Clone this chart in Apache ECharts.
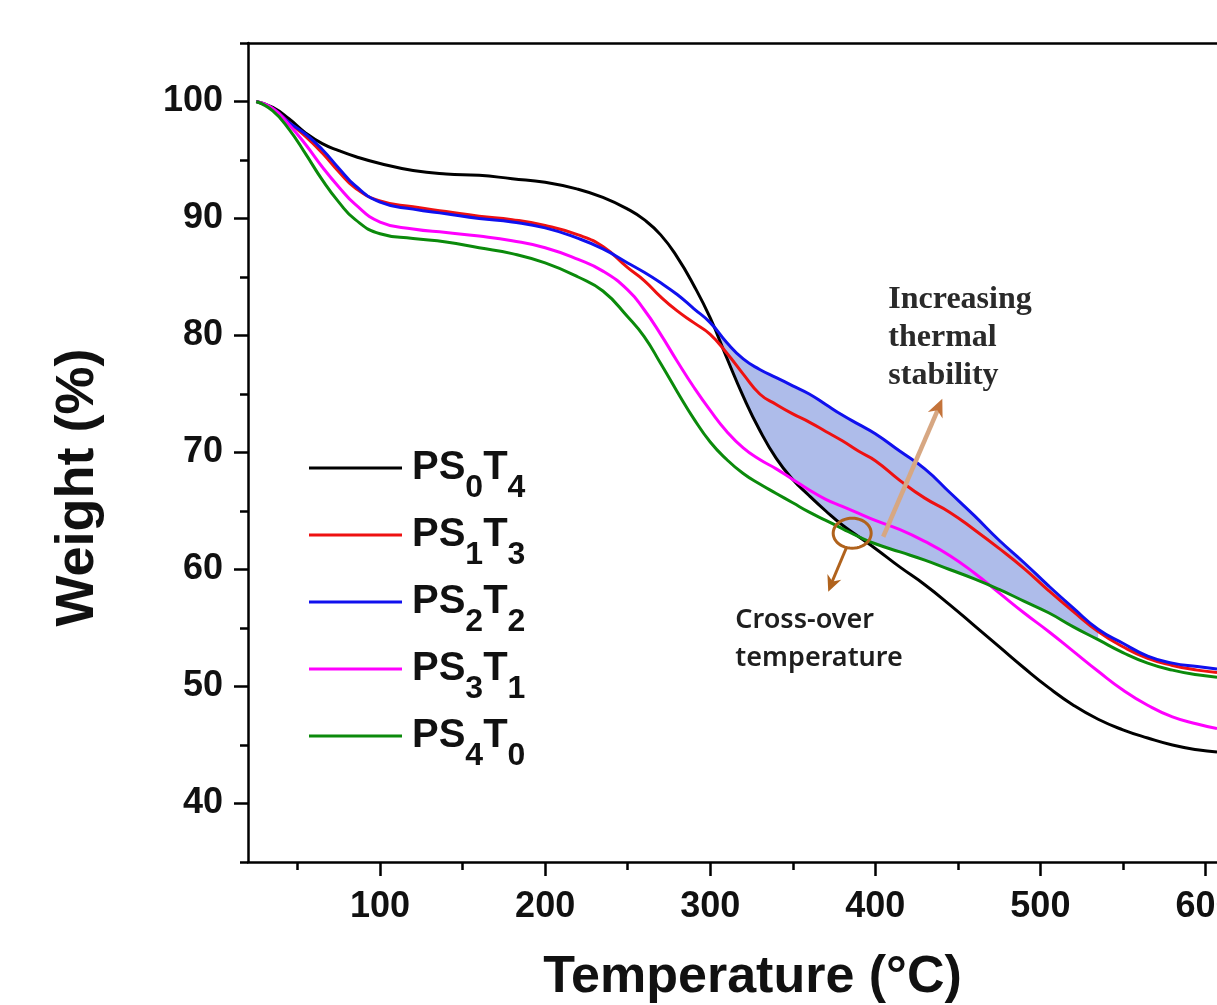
<!DOCTYPE html>
<html>
<head>
<meta charset="utf-8">
<script src="https://cdn.jsdelivr.net/npm/echarts@6/dist/echarts.min.js"></script>
<style>
  html, body { margin: 0; padding: 0; background: #fff; }
  #chart { width: 1217px; height: 1005px; }
</style>
</head>
<body>
<div id="chart"></div>
<script>
// ---------------- data ----------------
const temps = [25, 35, 45, 55, 65, 75, 85, 100, 120, 140, 160, 180, 200, 220, 235, 250, 260, 270, 280, 290,
               300, 310, 320, 330, 340, 350, 360, 370, 380, 390, 400, 415, 430, 445, 460, 475, 490, 505, 520,
               535, 550, 565, 580, 595, 607];

const ps0t4 = [100, 99.5, 98.5, 97.3, 96.4, 95.8, 95.3, 94.7, 94.1, 93.8, 93.7, 93.4, 93.1, 92.5, 91.8, 90.8, 89.9, 88.6, 86.7, 84.3,
               81.5, 78.1, 74.8, 71.9, 69.5, 67.7, 66.3, 65.0, 63.8, 62.8, 61.8, 60.2, 58.7, 57.0, 55.2, 53.4, 51.6, 49.9, 48.4,
               47.2, 46.3, 45.6, 45.0, 44.6, 44.4];
const ps1t3 = [100, 99.4, 98.2, 97.0, 95.6, 94.0, 92.6, 91.5, 91.0, 90.6, 90.2, 89.9, 89.4, 88.6, 87.6, 85.8, 84.7, 83.3, 82.1, 81.1,
               80.1, 78.5, 76.7, 75.0, 74.1, 73.3, 72.6, 71.8, 71.0, 70.1, 69.3, 67.6, 66.1, 64.9, 63.4, 61.8, 60.1, 58.2, 56.4,
               54.7, 53.4, 52.4, 51.8, 51.4, 51.2];
const ps2t2 = [100, 99.4, 98.2, 97.2, 95.9, 94.3, 92.8, 91.4, 90.8, 90.4, 90.0, 89.7, 89.2, 88.3, 87.4, 86.2, 85.4, 84.5, 83.5, 82.3,
               81.1, 79.4, 78.0, 77.1, 76.4, 75.7, 75.0, 74.1, 73.2, 72.4, 71.6, 70.1, 68.6, 66.6, 64.6, 62.5, 60.6, 58.6, 56.7,
               54.9, 53.7, 52.6, 52.0, 51.7, 51.5];
const ps3t1 = [100, 99.4, 98.0, 96.3, 94.4, 92.7, 91.2, 89.7, 89.1, 88.8, 88.5, 88.1, 87.5, 86.5, 85.5, 83.9, 82.2, 80.1, 77.8, 75.6,
               73.6, 71.8, 70.4, 69.4, 68.6, 67.7, 66.8, 66.0, 65.4, 64.8, 64.2, 63.4, 62.4, 61.2, 59.7, 58.0, 56.3, 54.7, 53.0,
               51.3, 49.7, 48.4, 47.4, 46.8, 46.4];
const ps4t0 = [100, 99.2, 97.6, 95.5, 93.3, 91.4, 89.9, 88.7, 88.3, 88.0, 87.5, 87.0, 86.2, 85.0, 83.8, 81.6, 79.9, 77.6, 75.2, 72.9,
               70.9, 69.4, 68.2, 67.3, 66.5, 65.7, 64.9, 64.2, 63.5, 62.8, 62.2, 61.5, 60.8, 60.0, 59.2, 58.3, 57.3, 56.3, 55.1,
               54.0, 52.9, 52.0, 51.4, 51.0, 50.8];

const seriesNames = ['PS0T4', 'PS1T3', 'PS2T2', 'PS3T1', 'PS4T0'];
const seriesColors = ['#000000', '#ee1111', '#1010ee', '#ff00ff', '#0b8a0b'];
const seriesValues = [ps0t4, ps1t3, ps2t2, ps3t1, ps4t0];

const xTickLabels = [100, 200, 300, 400, 500, 600];
const xMinorTicks = [50, 150, 250, 350, 450, 550];
const yTickLabels = [40, 50, 60, 70, 80, 90, 100];
const yMinorTicks = [35, 45, 55, 65, 75, 85, 95, 105];

// shaded region: between PS2T2 (top) and the upper of PS0T4 / PS4T0 (bottom)
const fillFrom = 300, fillTo = 535;

// annotations, anchored in data coordinates
const crossOver = [386, 63.1];
const crossArrowTip = [371.5, 58.1];
const stabArrowFrom = [404.8, 62.8];
const stabArrowTo = [440.6, 74.6];
const stabText = ['Increasing', 'thermal', 'stability'];
const stabTextAt = [407.9, 84.7];
const crossText = ['Cross-over', 'temperature'];
const crossTextAt = [315.2, 57.3];

// ---------------- chart ----------------
const chart = echarts.init(document.getElementById('chart'), null, { renderer: 'canvas' });
const SMOOTH = 0.5;

const lineSeries = seriesNames.map((n, i) => ({
  name: n,
  type: 'line',
  data: temps.map((t, k) => [t, seriesValues[i][k]]),
  smooth: SMOOTH,
  showSymbol: false,
  symbol: 'none',
  lineStyle: { color: seriesColors[i], width: 3 },
  itemStyle: { color: seriesColors[i] },
  z: 3
}));

// upper fill edge: PS2T2 inside the range; lower (white) cover: one point wider on each side
const kFrom = temps.indexOf(fillFrom), kTo = temps.indexOf(fillTo);
const upperFill = [], lowerFill = [];
temps.forEach((t, k) => {
  if (k >= kFrom && k <= kTo) upperFill.push([t, ps2t2[k]]);
  if (k >= kFrom - 1 && k <= kTo + 1) lowerFill.push([t, Math.max(ps0t4[k], ps4t0[k])]);
});

const fillSeries = [
  { type: 'line', name: '_upper', data: upperFill, smooth: SMOOTH, symbol: 'none', silent: true, z: 1,
    lineStyle: { width: 0, opacity: 0 }, areaStyle: { color: '#aebcea', opacity: 1, origin: 'start' } },
  { type: 'line', name: '_lower', data: lowerFill, smooth: SMOOTH, symbol: 'none', silent: true, z: 1,
    lineStyle: { width: 0, opacity: 0 }, areaStyle: { color: '#ffffff', opacity: 1, origin: 'start' } }
];

const axisLineStyle = { color: '#000', width: 2.5 };
const labelFont = { fontFamily: 'Liberation Sans, Arial, sans-serif', fontWeight: 'bold', fontSize: 36, color: '#111' };

function sub(name) {
  const m = name.match(/PS(\d)T(\d)/);
  return '{m|PS}{s|' + m[1] + '}{m|T}{s|' + m[2] + '}';
}

const option = {
  animation: false,
  backgroundColor: '#fff',
  grid: { left: 248, right: 0, top: 43, bottom: 143, containLabel: false, outerBoundsMode: 'none' },
  xAxis: [
    { type: 'value', min: 20, max: 607, position: 'bottom', z: 5,
      axisLine: { show: true, lineStyle: axisLineStyle },
      axisTick: { show: true, customValues: xTickLabels, length: 14, inside: false, lineStyle: { width: 2.5, color: '#000' } },
      axisLabel: Object.assign({ show: true, customValues: xTickLabels, margin: 27 }, labelFont),
      splitLine: { show: false },
      name: 'Temperature (°C)', nameLocation: 'middle', nameGap: 90,
      nameTextStyle: { fontFamily: 'Liberation Sans, Arial, sans-serif', fontWeight: 'bold', fontSize: 52, color: '#111', padding: [0, 0, 0, 40] }
    },
    { type: 'value', min: 20, max: 607, position: 'bottom', z: 5,
      axisLine: { show: false },
      axisTick: { show: true, customValues: xMinorTicks, length: 8, lineStyle: { width: 2.5, color: '#000' } },
      axisLabel: { show: false }, splitLine: { show: false }
    },
    { type: 'value', min: 20, max: 607, position: 'top', z: 5,
      axisLine: { show: true, lineStyle: axisLineStyle },
      axisTick: { show: false }, axisLabel: { show: false }, splitLine: { show: false }
    }
  ],
  yAxis: [
    { type: 'value', min: 35, max: 105, position: 'left', z: 5,
      axisLine: { show: true, lineStyle: axisLineStyle },
      axisTick: { show: true, customValues: yTickLabels, length: 14, lineStyle: { width: 2.5, color: '#000' } },
      axisLabel: Object.assign({ show: true, customValues: yTickLabels, margin: 25 }, labelFont),
      splitLine: { show: false },
      name: 'Weight (%)', nameLocation: 'middle', nameGap: 143, nameRotate: 90,
      nameTextStyle: { fontFamily: 'Liberation Sans, Arial, sans-serif', fontWeight: 'bold', fontSize: 54, color: '#111', padding: [0, 70, 0, 0] }
    },
    { type: 'value', min: 35, max: 105, position: 'left', z: 5,
      axisLine: { show: false },
      axisTick: { show: true, customValues: yMinorTicks, length: 8, lineStyle: { width: 2.5, color: '#000' } },
      axisLabel: { show: false }, splitLine: { show: false }
    }
  ],
  legend: {
    data: seriesNames,
    orient: 'vertical',
    left: 304, top: 443,
    icon: 'rect',
    itemWidth: 93, itemHeight: 3,
    itemGap: 11,
    selectedMode: false,
    formatter: sub,
    textStyle: {
      padding: [0, 0, 0, 5],
      rich: {
        m: { fontFamily: 'Liberation Sans, Arial, sans-serif', fontWeight: 'bold', fontSize: 40, color: '#111', lineHeight: 40, verticalAlign: 'top' },
        s: { fontFamily: 'Liberation Sans, Arial, sans-serif', fontWeight: 'bold', fontSize: 32, color: '#111', lineHeight: 30, padding: [24, 0, 0, 0], verticalAlign: 'top' }
      }
    }
  },
  series: fillSeries.concat(lineSeries)
};

chart.setOption(option);

// ---------------- annotations ----------------
function px(p) { return chart.convertToPixel({ gridIndex: 0 }, p); }
function arrowHead(tip, from, len, wid) {
  const dx = tip[0] - from[0], dy = tip[1] - from[1];
  const L = Math.sqrt(dx * dx + dy * dy);
  const ux = dx / L, uy = dy / L;
  const bx = tip[0] - ux * len, by = tip[1] - uy * len;
  return [tip, [bx - uy * wid / 2, by + ux * wid / 2], [tip[0] - ux * len * 0.7, tip[1] - uy * len * 0.7], [bx + uy * wid / 2, by - ux * wid / 2]];
}

const c = px(crossOver);
const rx = 19, ry = 15;
const ellipsePts = [];
for (let i = 0; i < 48; i++) {
  const a = i / 48 * Math.PI * 2;
  ellipsePts.push([c[0] + rx * Math.cos(a), c[1] + ry * Math.sin(a)]);
}
const crossTip = px(crossArrowTip);
const crossStart = [c[0] - 6, c[1] + ry];
const sFrom = px(stabArrowFrom);
const sTo = px(stabArrowTo);
const stPos = px(stabTextAt);
const ctPos = px(crossTextAt);

const brown = '#b0621c';
const graphics = [
  { type: 'polygon', shape: { points: ellipsePts }, style: { fill: 'none', stroke: brown, lineWidth: 3 }, z: 10 },
  { type: 'line', shape: { x1: crossStart[0], y1: crossStart[1], x2: crossTip[0] + 3, y2: crossTip[1] - 8 },
    style: { stroke: brown, lineWidth: 3 }, z: 10 },
  { type: 'polygon', shape: { points: arrowHead(crossTip, crossStart, 16, 15) }, style: { fill: brown }, z: 10 },
  { type: 'line', shape: { x1: sFrom[0], y1: sFrom[1], x2: sTo[0] - 4, y2: sTo[1] + 10 },
    style: { stroke: '#d7a782', lineWidth: 4.5 }, z: 10 },
  { type: 'polygon', shape: { points: arrowHead(sTo, sFrom, 18, 16) }, style: { fill: '#c4733a' }, z: 10 },
  { type: 'text', x: stPos[0], y: stPos[1], z: 10,
    style: { text: stabText.join('\n'), fill: '#2a2a2a', font: 'bold 32px "Liberation Serif", "Times New Roman", serif', lineHeight: 38, textVerticalAlign: 'top' } },
  { type: 'text', x: ctPos[0], y: ctPos[1], z: 10,
    style: { text: crossText.join('\n'), fill: '#1e1e1e', font: '600 27px "Noto Sans", "Open Sans", sans-serif', lineHeight: 38, textVerticalAlign: 'top' } }
];
chart.setOption({ graphic: graphics });
</script>
</body>
</html>
